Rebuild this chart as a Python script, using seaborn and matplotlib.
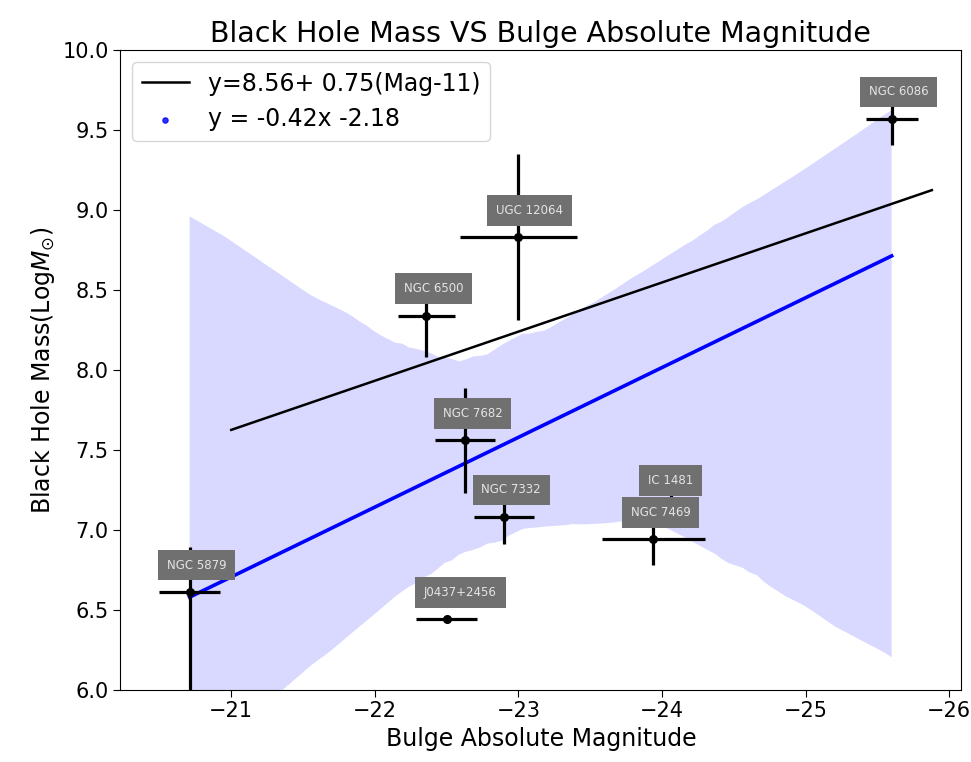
import numpy as np
import matplotlib
matplotlib.use("Agg")
import matplotlib.pyplot as plt
import seaborn as sns

# ---------- Data ----------
names = ["NGC 5879", "J0437+2456", "NGC 6500", "UGC 12064", "NGC 7682",
         "NGC 7332", "NGC 7469", "IC 1481", "NGC 6086"]
mag         = [-20.71, -22.50, -22.36, -23.00, -22.63, -22.90, -23.94, -24.06, -25.60]
logm        = [6.61, 6.44, 8.34, 8.83, 7.56, 7.08, 6.94, 7.14, 9.57]
mag_err     = [0.21, 0.21, 0.20, 0.41, 0.21, 0.21, 0.36, 0.14, 0.18]
logm_err_lo = [0.75, 0.00, 0.26, 0.52, 0.33, 0.17, 0.16, 0.10, 0.16]
logm_err_hi = [0.28, 0.00, 0.26, 0.52, 0.33, 0.17, 0.16, 0.10, 0.16]

# reference relation (black line)
ref_mag  = [-21.0, -25.88]
ref_logm = [7.625, 9.125]

# rough shape of the CI band in the reference, used only to pick a bootstrap seed
band_mag   = [-20.71, -22.45, -25.60, -23.50, -25.60]
band_logm  = [8.98, 8.05, 9.65, 6.95, 6.20]
band_upper = [True, True, True, False, False]


def band_error(seed, n_boot=1000):
    # same resampling seaborn's regplot does for its ci band
    x, y = np.asarray(mag), np.asarray(logm)
    X = np.c_[np.ones(len(x)), x]
    grid = np.c_[np.ones(100), np.linspace(x.min(), x.max(), 100)]
    rng = np.random.default_rng(seed)
    betas = []
    for _ in range(n_boot):
        idx = rng.integers(0, len(x), len(x), dtype=np.intp)
        betas.append(np.linalg.pinv(X[idx]).dot(y[idx]))
    yhat = grid.dot(np.array(betas).T).T
    lo, hi = np.nanpercentile(yhat, [2.5, 97.5], axis=0)
    err = 0.0
    for bm, bl, up in zip(band_mag, band_logm, band_upper):
        i = np.argmin(np.abs(grid[:, 1] - bm))
        err += ((hi[i] if up else lo[i]) - bl) ** 2
    return err


best_seed = min(range(150), key=band_error)

# ---------- Plot ----------
fig, ax = plt.subplots(figsize=(9.71, 7.62), dpi=100)
fig.subplots_adjust(left=0.124, right=0.99, bottom=0.095, top=0.934)

ax.plot(ref_mag, ref_logm, color="black", lw=1.8, label="y=8.56+ 0.75(Mag-11)")

sns.regplot(x=mag, y=logm, ax=ax, color="blue", seed=best_seed,
            scatter_kws={"s": 14}, line_kws={"lw": 2.6},
            label="y = -0.42x -2.18")

ax.errorbar(mag, logm, xerr=mag_err, yerr=[logm_err_lo, logm_err_hi],
            fmt="o", color="black", ms=5.5, elinewidth=2.3, capsize=0, zorder=4)

for n, x, y in zip(names, mag, logm):
    ax.annotate(n, (x, y), xytext=(-16.3, 19.5), textcoords="offset points",
                ha="left", va="center", fontsize=8.5, color="#e4e4e4",
                bbox=dict(boxstyle="square,pad=0.75", fc="#707070", ec="none"),
                zorder=6)

ax.set_xlim(-20.228, -26.085)
ax.set_ylim(6.0, 10.0)
ax.set_yticks(np.arange(6.0, 10.01, 0.5))
ax.yaxis.set_major_formatter(matplotlib.ticker.FormatStrFormatter("%.1f"))

ax.set_title("Black Hole Mass VS Bulge Absolute Magnitude", fontsize=20.5)
ax.set_xlabel("Bulge Absolute Magnitude", fontsize=17)
ax.set_ylabel(r"Black Hole Mass(Log$M_{\odot}$)", fontsize=17)
ax.tick_params(labelsize=15, length=5)
ax.legend(loc="upper left", fontsize=17)

fig.savefig("out.png", dpi=100)
